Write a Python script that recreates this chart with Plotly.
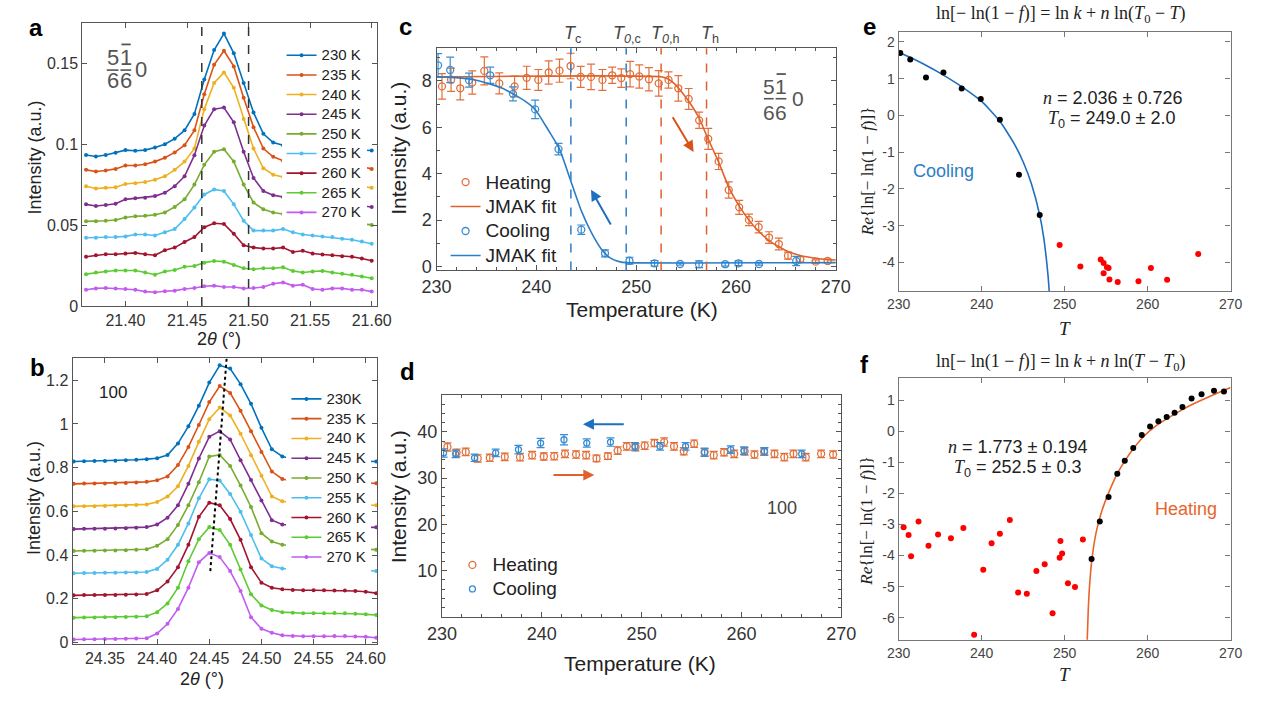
import plotly.graph_objects as go

W, H = 1270, 702
def X(px): return px / W
def Y(py): return 1 - py / H

FONT = "Liberation Sans, Arial, sans-serif"
SERIF = "Liberation Serif, Times New Roman, serif"

# ---------------- panel a : (5/6 -1/6 0) peak ----------------
two_theta_a = [21.368, 21.376, 21.384, 21.392, 21.400, 21.408, 21.416, 21.424, 21.432, 21.440,
               21.448, 21.456, 21.464, 21.472, 21.480, 21.488, 21.496, 21.504, 21.512, 21.520,
               21.528, 21.536, 21.544, 21.552, 21.560, 21.568, 21.576, 21.584, 21.592, 21.600]
I_a_230 = [0.0933, 0.0924, 0.0933, 0.0947, 0.0963, 0.0959, 0.0963, 0.0979, 0.0999, 0.1034,
           0.1085, 0.1186, 0.1399, 0.1581, 0.1683, 0.1561, 0.1378, 0.1196, 0.1064, 0.1010,
           0.0993, 0.0983, 0.0979, 0.0975, 0.0971, 0.0969, 0.0967, 0.0965, 0.0963, 0.0961]
I_a_235 = [0.0841, 0.0831, 0.0837, 0.0847, 0.0868, 0.0868, 0.0876, 0.0892, 0.0916, 0.0949,
           0.0993, 0.1085, 0.1308, 0.1490, 0.1577, 0.1480, 0.1287, 0.1105, 0.0973, 0.0922,
           0.0898, 0.0892, 0.0888, 0.0884, 0.0880, 0.0876, 0.0872, 0.0866, 0.0860, 0.0847]
I_a_240 = [0.0740, 0.0726, 0.0730, 0.0734, 0.0754, 0.0758, 0.0766, 0.0780, 0.0801, 0.0841,
           0.0892, 0.0973, 0.1216, 0.1378, 0.1443, 0.1348, 0.1155, 0.0973, 0.0851, 0.0811,
           0.0797, 0.0787, 0.0780, 0.0774, 0.0768, 0.0762, 0.0756, 0.0750, 0.0740, 0.0730]
I_a_245 = [0.0628, 0.0618, 0.0624, 0.0632, 0.0659, 0.0665, 0.0669, 0.0679, 0.0699, 0.0740,
           0.0801, 0.0932, 0.1115, 0.1216, 0.1226, 0.1135, 0.0953, 0.0791, 0.0710, 0.0685,
           0.0673, 0.0665, 0.0657, 0.0651, 0.0645, 0.0639, 0.0632, 0.0626, 0.0618, 0.0612]
I_a_250 = [0.0523, 0.0523, 0.0527, 0.0531, 0.0547, 0.0555, 0.0557, 0.0564, 0.0578, 0.0612,
           0.0659, 0.0750, 0.0872, 0.0953, 0.0969, 0.0892, 0.0750, 0.0639, 0.0598, 0.0578,
           0.0568, 0.0557, 0.0547, 0.0539, 0.0533, 0.0527, 0.0521, 0.0515, 0.0507, 0.0501]
I_a_255 = [0.0422, 0.0422, 0.0426, 0.0426, 0.0430, 0.0442, 0.0442, 0.0436, 0.0456, 0.0476,
           0.0537, 0.0608, 0.0689, 0.0720, 0.0710, 0.0628, 0.0527, 0.0466, 0.0466, 0.0466,
           0.0476, 0.0456, 0.0442, 0.0436, 0.0430, 0.0426, 0.0416, 0.0409, 0.0399, 0.0385]
I_a_260 = [0.0304, 0.0314, 0.0320, 0.0320, 0.0324, 0.0328, 0.0320, 0.0314, 0.0345, 0.0361,
           0.0395, 0.0426, 0.0487, 0.0511, 0.0507, 0.0446, 0.0375, 0.0361, 0.0355, 0.0355,
           0.0361, 0.0334, 0.0341, 0.0324, 0.0318, 0.0314, 0.0308, 0.0304, 0.0294, 0.0280]
I_a_265 = [0.0197, 0.0207, 0.0213, 0.0219, 0.0219, 0.0219, 0.0207, 0.0193, 0.0213, 0.0223,
           0.0243, 0.0247, 0.0268, 0.0278, 0.0274, 0.0253, 0.0233, 0.0227, 0.0233, 0.0233,
           0.0239, 0.0217, 0.0207, 0.0213, 0.0217, 0.0207, 0.0199, 0.0193, 0.0182, 0.0172]
I_a_270 = [0.0101, 0.0109, 0.0111, 0.0109, 0.0105, 0.0101, 0.0089, 0.0085, 0.0091, 0.0095,
           0.0105, 0.0111, 0.0122, 0.0126, 0.0118, 0.0118, 0.0109, 0.0111, 0.0118, 0.0138,
           0.0146, 0.0126, 0.0132, 0.0105, 0.0101, 0.0109, 0.0109, 0.0101, 0.0101, 0.0089]
labels_a = ["230 K", "235 K", "240 K", "245 K", "250 K", "255 K", "260 K", "265 K", "270 K"]
boundary_a = [21.462, 21.500]

# ---------------- panel b : (100) peak ----------------
two_theta_b = [24.32, 24.33, 24.34, 24.35, 24.36, 24.37, 24.38, 24.39, 24.40, 24.41,
               24.42, 24.43, 24.44, 24.45, 24.46, 24.47, 24.48, 24.49, 24.50, 24.51,
               24.52, 24.53, 24.54, 24.55, 24.56, 24.57, 24.58, 24.59, 24.60, 24.61]
I_b_230 = [0.828, 0.829, 0.830, 0.831, 0.832, 0.834, 0.836, 0.839, 0.843, 0.858,
           0.911, 0.989, 1.083, 1.189, 1.268, 1.253, 1.182, 1.092, 0.982, 0.884,
           0.851, 0.840, 0.836, 0.834, 0.833, 0.832, 0.832, 0.831, 0.830, 0.828]
I_b_235 = [0.726, 0.727, 0.727, 0.728, 0.729, 0.730, 0.732, 0.735, 0.742, 0.760,
           0.812, 0.895, 0.995, 1.100, 1.173, 1.142, 1.060, 0.966, 0.872, 0.782,
           0.748, 0.738, 0.735, 0.733, 0.732, 0.731, 0.731, 0.730, 0.730, 0.729]
I_b_240 = [0.623, 0.624, 0.624, 0.625, 0.626, 0.627, 0.629, 0.632, 0.643, 0.668,
           0.715, 0.808, 0.918, 1.022, 1.075, 1.039, 0.955, 0.857, 0.763, 0.668,
           0.646, 0.638, 0.634, 0.632, 0.631, 0.630, 0.630, 0.629, 0.629, 0.628]
I_b_245 = [0.519, 0.520, 0.520, 0.521, 0.522, 0.523, 0.525, 0.528, 0.540, 0.571,
           0.628, 0.726, 0.842, 0.941, 0.967, 0.929, 0.834, 0.744, 0.650, 0.560,
           0.540, 0.535, 0.532, 0.531, 0.530, 0.530, 0.529, 0.528, 0.528, 0.527]
I_b_250 = [0.419, 0.420, 0.420, 0.421, 0.421, 0.422, 0.424, 0.427, 0.443, 0.473,
           0.538, 0.628, 0.733, 0.851, 0.858, 0.808, 0.718, 0.620, 0.500, 0.462,
           0.447, 0.440, 0.436, 0.433, 0.431, 0.430, 0.429, 0.428, 0.427, 0.425]
I_b_255 = [0.317, 0.318, 0.318, 0.319, 0.319, 0.320, 0.321, 0.323, 0.337, 0.379,
           0.447, 0.545, 0.660, 0.747, 0.741, 0.680, 0.598, 0.492, 0.384, 0.349,
           0.339, 0.335, 0.334, 0.334, 0.334, 0.334, 0.335, 0.333, 0.331, 0.327]
I_b_260 = [0.216, 0.217, 0.217, 0.218, 0.218, 0.219, 0.220, 0.222, 0.239, 0.279,
           0.345, 0.447, 0.575, 0.640, 0.628, 0.565, 0.470, 0.345, 0.274, 0.251,
           0.244, 0.240, 0.239, 0.239, 0.239, 0.238, 0.238, 0.236, 0.232, 0.226]
I_b_265 = [0.114, 0.115, 0.115, 0.116, 0.116, 0.117, 0.118, 0.120, 0.139, 0.179,
           0.251, 0.372, 0.473, 0.528, 0.515, 0.447, 0.334, 0.221, 0.169, 0.149,
           0.139, 0.136, 0.134, 0.134, 0.134, 0.135, 0.134, 0.132, 0.129, 0.126]
I_b_270 = [0.014, 0.015, 0.015, 0.016, 0.016, 0.017, 0.018, 0.020, 0.041, 0.086,
           0.154, 0.251, 0.367, 0.410, 0.391, 0.327, 0.236, 0.116, 0.063, 0.045,
           0.033, 0.030, 0.029, 0.029, 0.029, 0.030, 0.030, 0.028, 0.026, 0.022]
labels_b = ["230K", "235 K", "240 K", "245 K", "250 K", "255 K", "260 K", "265 K", "270 K"]
peak_guide_x = [24.4666, 24.451]
peak_guide_y = [1.298, 0.327]

curve_colors = ["#0072BD", "#D95319", "#EDB120", "#7E2F8E", "#77AC30",
                "#4DBEEE", "#A2142F", "#5DCB34", "#C25BF0"]

# ---------------- panels c, d : temperature dependence ----------------
heat_T = [230.55, 231.46, 232.38, 233.58, 234.79, 236.29, 237.82, 239.03, 240.20, 241.24,
          242.32, 243.43, 244.44, 245.48, 246.62, 247.60, 248.51, 249.39, 250.31, 251.28,
          252.26, 253.24, 254.22, 255.26, 256.31, 257.22, 258.26, 259.27, 260.32, 261.30,
          262.27, 263.31, 264.29, 265.21, 266.44, 267.98, 269.18]
heat_c = [7.76, 8.05, 7.68, 7.93, 8.43, 7.89, 7.76, 8.13, 8.04, 8.36,
          8.44, 8.64, 8.17, 8.17, 8.04, 8.24, 8.12, 8.29, 8.19, 8.07,
          7.89, 8.04, 7.68, 7.22, 6.30, 5.50, 4.53, 3.30, 2.55, 2.01,
          1.70, 1.25, 0.97, 0.47, 0.31, 0.21, 0.24]
heat_c_err = [0.55, 0.5, 0.5, 0.5, 0.6, 0.45, 0.45, 0.5, 0.45, 0.5,
              0.5, 0.55, 0.45, 0.55, 0.45, 0.35, 0.4, 0.55, 0.5, 0.5,
              0.55, 0.35, 0.55, 0.45, 0.35, 0.45, 0.35, 0.35, 0.3, 0.25,
              0.25, 0.25, 0.25, 0.15, 0.12, 0.08, 0.08]
cool_T = [230.16, 231.37, 233.26, 235.38, 237.66, 239.88, 242.22, 244.50, 246.88, 249.33,
          251.84, 254.40, 256.30, 258.92, 260.25, 262.30, 266.03]
cool_c = [8.67, 8.47, 8.03, 8.24, 7.44, 6.77, 5.06, 1.59, 0.57, 0.25,
          0.14, 0.11, 0.10, 0.10, 0.14, 0.11, 0.24]
cool_c_err = [0.5, 0.55, 0.3, 0.35, 0.3, 0.4, 0.25, 0.2, 0.15, 0.15,
              0.12, 0.05, 0.15, 0.08, 0.1, 0.05, 0.2]

fit_heat_T = [230.0, 252.6, 253.2, 253.9, 254.6, 255.3, 256.3, 257.05, 258.26, 259.27,
              260.32, 261.3, 262.27, 263.31, 264.29, 265.2, 266.44, 267.98, 269.18, 270.0]
fit_heat_I = [8.17, 8.17, 8.08, 7.85, 7.50, 7.10, 6.40, 5.65, 4.50, 3.42,
              2.60, 2.00, 1.52, 1.12, 0.85, 0.65, 0.48, 0.36, 0.30, 0.28]
fit_cool_T = [230.0, 231.5, 233.5, 235.4, 236.6, 237.66, 238.8, 239.88, 241.24, 242.3,
              243.4, 244.5, 245.48, 246.46, 247.43, 248.4, 249.0, 270.0]
fit_cool_I = [8.18, 8.15, 8.07, 7.86, 7.68, 7.44, 7.15, 6.77, 5.85, 5.08,
              3.75, 2.41, 1.49, 0.78, 0.36, 0.20, 0.17, 0.17]

T_c, T_0c, T_0h, T_h = 243.46, 249.0, 252.5, 257.05

heat_d = [36.74, 35.46, 35.67, 34.26, 34.40, 34.61, 34.54, 34.97, 34.68, 34.75,
          35.25, 35.10, 34.97, 34.26, 34.75, 35.96, 36.88, 36.67, 37.02, 37.59,
          37.80, 36.88, 35.82, 37.45, 35.60, 34.97, 35.60, 35.25, 35.80, 35.10,
          35.70, 35.25, 34.54, 35.25, 34.54, 35.25, 35.10]
heat_d_err = [0.9, 0.8, 0.8, 0.8, 0.8, 0.8, 0.8, 0.8, 0.8, 0.8,
              0.8, 0.8, 0.8, 0.7, 0.7, 0.8, 0.8, 0.8, 0.8, 0.8,
              0.9, 0.8, 0.8, 0.8, 0.8, 0.8, 0.8, 0.8, 0.8, 0.8,
              0.8, 0.8, 0.8, 0.8, 0.8, 0.8, 0.8]
cool_d = [35.46, 35.25, 34.40, 35.46, 36.17, 37.59, 38.30, 37.59, 37.80, 36.88,
          36.88, 36.88, 35.60, 36.17, 35.96, 35.82, 35.25]
cool_d_err = [0.9, 0.8, 0.8, 0.8, 0.9, 1.0, 1.1, 0.9, 0.9, 0.8,
              0.8, 0.8, 0.9, 0.8, 0.8, 0.8, 0.8]

# ---------------- panel e : cooling JMAK linearisation ----------------
e_T_in = [230.2, 231.4, 233.3, 235.4, 237.6, 239.9, 242.2, 244.5, 247.0]
e_y_in = [1.70, 1.52, 1.03, 1.17, 0.73, 0.45, -0.12, -1.61, -2.71]
e_T_out = [249.4, 251.9, 254.35, 254.7, 255.1, 255.3, 254.7, 255.4, 256.4, 258.9, 260.4, 262.35, 266.1]
e_y_out = [-3.52, -4.11, -3.92, -4.01, -4.13, -4.15, -4.29, -4.46, -4.53, -4.51, -4.15, -4.47, -3.77]
e_fit_T = [230.0, 231.5, 233.0, 235.0, 237.0, 238.5, 240.0, 241.0, 242.2, 243.0,
           244.0, 245.0, 246.0, 247.0, 247.5, 248.0, 248.16]
e_fit_y = [1.72, 1.57, 1.40, 1.15, 0.87, 0.64, 0.38, 0.15, -0.16, -0.43,
           -0.80, -1.26, -1.86, -2.71, -3.35, -4.35, -4.83]

# ---------------- panel f : heating JMAK linearisation ----------------
f_T_in = [253.25, 254.24, 255.3, 256.35, 257.25, 258.27, 259.3, 260.3, 261.3, 262.3,
          263.25, 264.2, 265.3, 266.5, 268.0, 269.2]
f_y_in = [-4.11, -2.90, -2.11, -1.36, -0.94, -0.53, -0.11, 0.16, 0.33, 0.47,
          0.60, 0.79, 1.06, 1.20, 1.31, 1.29]
f_T_out = [230.6, 231.2, 231.5, 232.4, 233.6, 234.75, 236.3, 237.8, 239.1, 240.2,
           241.2, 242.2, 243.4, 244.4, 245.45, 246.6, 247.6, 248.55, 249.4, 249.5,
           249.7, 250.4, 251.25, 252.2]
f_y_out = [-3.09, -3.34, -4.02, -2.90, -3.68, -3.32, -3.44, -3.11, -6.55, -4.46,
           -3.60, -3.30, -2.85, -5.19, -5.23, -4.50, -4.28, -5.86, -4.07, -3.53,
           -3.93, -4.89, -5.01, -3.48]
f_fit_T = [252.72, 252.85, 253.0, 253.3, 253.8, 254.5, 255.3, 256.3, 257.3, 258.3,
           259.5, 261.0, 263.0, 265.0, 267.0, 268.5, 270.0]
f_fit_y = [-6.75, -5.75, -5.00, -4.10, -3.25, -2.55, -1.98, -1.38, -0.93, -0.55,
           -0.17, 0.18, 0.52, 0.82, 1.07, 1.25, 1.42]

HEAT_PT = "#E2703A"
COOL_PT = "#3A8DD2"
HEAT_LN = "#E0612B"
COOL_LN = "#2B7DC6"

def lg(name, px):
    # legend label drawn at px size (legend row spacing follows the legend font size)
    return "<span style='font-size:%dpx'>%s</span>" % (px, name)

fig = go.Figure()

series_a = [I_a_230, I_a_235, I_a_240, I_a_245, I_a_250, I_a_255, I_a_260, I_a_265, I_a_270]
for name, col, ys in zip(labels_a, curve_colors, series_a):
    fig.add_trace(go.Scatter(x=two_theta_a, y=ys, mode="lines+markers", name=lg(name, 15),
                             line=dict(color=col, width=1.6), marker=dict(color=col, size=4),
                             xaxis="x", yaxis="y", legend="legend"))

series_b = [I_b_230, I_b_235, I_b_240, I_b_245, I_b_250, I_b_255, I_b_260, I_b_265, I_b_270]
for name, col, ys in zip(labels_b, curve_colors, series_b):
    fig.add_trace(go.Scatter(x=two_theta_b, y=ys, mode="lines+markers", name=lg(name, 15),
                             line=dict(color=col, width=1.6), marker=dict(color=col, size=4),
                             xaxis="x2", yaxis="y2", legend="legend2"))
fig.add_trace(go.Scatter(x=peak_guide_x, y=peak_guide_y, mode="lines", showlegend=False,
                         line=dict(color="black", width=2, dash="dot"), xaxis="x2", yaxis="y2"))

def err(arr, col):
    return dict(type="data", array=arr, visible=True, color=col, thickness=1.2, width=4)

# panel c
fig.add_trace(go.Scatter(x=heat_T, y=heat_c, mode="markers", name=lg("Heating", 19),
                         marker=dict(symbol="circle-open", size=7, color=HEAT_PT, line=dict(width=1.3)),
                         error_y=err(heat_c_err, HEAT_PT), xaxis="x3", yaxis="y3", legend="legend3"))
fig.add_trace(go.Scatter(x=fit_heat_T, y=fit_heat_I, mode="lines", name=lg("JMAK fit", 19),
                         line=dict(color=HEAT_LN, width=1.6, shape="spline", smoothing=0.6),
                         xaxis="x3", yaxis="y3", legend="legend3"))
fig.add_trace(go.Scatter(x=cool_T, y=cool_c, mode="markers", name=lg("Cooling", 19),
                         marker=dict(symbol="circle-open", size=7, color=COOL_PT, line=dict(width=1.3)),
                         error_y=err(cool_c_err, COOL_PT), xaxis="x3", yaxis="y3", legend="legend3"))
fig.add_trace(go.Scatter(x=fit_cool_T, y=fit_cool_I, mode="lines", name=lg("JMAK fit", 19),
                         line=dict(color=COOL_LN, width=1.6, shape="spline", smoothing=0.6),
                         xaxis="x3", yaxis="y3", legend="legend3"))

# panel d
fig.add_trace(go.Scatter(x=heat_T, y=heat_d, mode="markers", name=lg("Heating", 19),
                         marker=dict(symbol="circle-open", size=7, color=HEAT_PT, line=dict(width=1.3)),
                         error_y=err(heat_d_err, HEAT_PT), xaxis="x4", yaxis="y4", legend="legend4"))
fig.add_trace(go.Scatter(x=cool_T, y=cool_d, mode="markers", name=lg("Cooling", 19),
                         marker=dict(symbol="circle-open", size=6, color=COOL_PT, line=dict(width=1.3)),
                         error_y=err(cool_d_err, COOL_PT), xaxis="x4", yaxis="y4", legend="legend4"))

# panel e
fig.add_trace(go.Scatter(x=e_fit_T, y=e_fit_y, mode="lines", showlegend=False,
                         line=dict(color="#1F6FBF", width=1.6, shape="spline", smoothing=0.5),
                         xaxis="x5", yaxis="y5"))
fig.add_trace(go.Scatter(x=e_T_in, y=e_y_in, mode="markers", showlegend=False,
                         marker=dict(color="black", size=6), xaxis="x5", yaxis="y5"))
fig.add_trace(go.Scatter(x=e_T_out, y=e_y_out, mode="markers", showlegend=False,
                         marker=dict(color="#FF0000", size=6), xaxis="x5", yaxis="y5"))

# panel f
fig.add_trace(go.Scatter(x=f_fit_T, y=f_fit_y, mode="lines", showlegend=False,
                         line=dict(color="#E8642A", width=1.6, shape="spline", smoothing=0.5),
                         xaxis="x6", yaxis="y6"))
fig.add_trace(go.Scatter(x=f_T_in, y=f_y_in, mode="markers", showlegend=False,
                         marker=dict(color="black", size=6), xaxis="x6", yaxis="y6"))
fig.add_trace(go.Scatter(x=f_T_out, y=f_y_out, mode="markers", showlegend=False,
                         marker=dict(color="#FF0000", size=6), xaxis="x6", yaxis="y6"))


def ax(size=16, color="#333", lc="#555", **kw):
    d = dict(showline=True, linecolor=lc, linewidth=1.2, mirror="ticks", ticks="inside",
             ticklen=5, tickcolor=lc, tickwidth=1, showgrid=False, zeroline=False,
             tickfont=dict(family=FONT, size=size, color=color), fixedrange=True)
    d.update(kw)
    return d

minor_x = dict(ticks="inside", ticklen=3, dtick=2, tickcolor="#555", showgrid=False)
d_minor_vals = [v for v in range(2, 48, 2) if v % 10 != 0]

layout_axes = dict(
    xaxis=ax(domain=[X(69), X(371)], range=[21.365, 21.6045], anchor="y",
             tickvals=[21.40, 21.45, 21.50, 21.55, 21.60],
             ticktext=["21.40", "21.45", "21.50", "21.55", "21.60"]),
    yaxis=ax(domain=[Y(310), Y(23)], range=[0, 0.175], anchor="x",
             tickvals=[0, 0.05, 0.1, 0.15], ticktext=["0", "0.05", "0.1", "0.15"]),
    xaxis2=ax(domain=[X(59), X(371)], range=[24.319, 24.611], anchor="y2",
              tickvals=[24.35, 24.40, 24.45, 24.50, 24.55, 24.60],
              ticktext=["24.35", "24.40", "24.45", "24.50", "24.55", "24.60"]),
    yaxis2=ax(domain=[Y(652), Y(363)], range=[-0.005, 1.30], anchor="x2",
              tickvals=[0, 0.2, 0.4, 0.6, 0.8, 1.0, 1.2],
              ticktext=["0", "0.2", "0.4", "0.6", "0.8", "1", "1.2"]),
    xaxis3=ax(size=18, domain=[X(431.7), X(840.7)], range=[230, 270], anchor="y3",
              dtick=10, tick0=230, minor=minor_x),
    yaxis3=ax(size=18, domain=[Y(274), Y(49)], range=[-0.17, 9.4], anchor="x3",
              dtick=2, tick0=0, minor=dict(ticks="inside", ticklen=3, dtick=1, tickcolor="#555", showgrid=False)),
    xaxis4=ax(size=18, domain=[X(437.3), X(846.3)], range=[230, 270], anchor="y4",
              dtick=10, tick0=230, minor=minor_x),
    yaxis4=ax(size=18, domain=[Y(625), Y(400)], range=[0, 48], anchor="x4",
              tickmode="array", tickvals=[10, 20, 30, 40], ticktext=["10", "20", "30", "40"],
              minor=dict(ticks="inside", ticklen=3, tickmode="array", tickvals=d_minor_vals,
                         tickcolor="#555", showgrid=False)),
    xaxis5=ax(size=14, color="#444", lc="#777", domain=[X(905), X(1245)], range=[230, 270],
              anchor="y5", dtick=10, tick0=230),
    yaxis5=ax(size=14, color="#444", lc="#777", domain=[Y(295), Y(32)], range=[-4.78, 2.28],
              anchor="x5", tickvals=[-4, -3, -2, -1, 0, 1, 2],
              ticktext=["-4", "-3", "-2", "-1", "0", "1", "2"]),
    xaxis6=ax(size=14, color="#444", lc="#777", domain=[X(905), X(1245)], range=[230, 270],
              anchor="y6", dtick=10, tick0=230),
    yaxis6=ax(size=14, color="#444", lc="#777", domain=[Y(648), Y(383)], range=[-6.71, 1.72],
              anchor="x6", tickvals=[-6, -5, -4, -3, -2, -1, 0, 1],
              ticktext=["-6", "-5", "-4", "-3", "-2", "-1", "0", "1"]),
)

shapes = []
for xb in boundary_a:
    shapes.append(dict(type="line", xref="x", yref="y domain", x0=xb, x1=xb, y0=0, y1=1,
                       line=dict(color="#333", width=1.5, dash="dash")))
for xv, col in [(T_c, COOL_LN), (T_0c, COOL_LN), (T_0h, HEAT_LN), (T_h, HEAT_LN)]:
    shapes.append(dict(type="line", xref="x3", yref="y3 domain", x0=xv, x1=xv, y0=0, y1=1,
                       line=dict(color=col, width=1.5, dash="dash")))

# stacked Miller-index notation bars
def pline(x0, y0, x1, y1, w=1.6, col="#555"):
    shapes.append(dict(type="line", xref="paper", yref="paper", x0=X(x0), x1=X(x1),
                       y0=Y(y0), y1=Y(y1), line=dict(color=col, width=w)))
pline(94, 71, 106, 71); pline(108, 71, 119, 71); pline(109, 45, 118.5, 45, 1.8)
pline(767, 100, 777, 100); pline(779, 100, 790, 100); pline(780, 75, 789.5, 75, 1.8)

ann = []
def txt(x, y, s, size=16, color="#222", family=FONT, angle=0, xanchor="center", yanchor="middle"):
    ann.append(dict(x=X(x), y=Y(y), xref="paper", yref="paper", text=s, showarrow=False,
                    font=dict(family=family, size=size, color=color), textangle=angle,
                    xanchor=xanchor, yanchor=yanchor))

# panel letters
for (x, y, s) in [(21, 28, "a"), (23, 372, "b"), (400, 27, "c"), (402, 376, "d"), (875, 27, "e"), (870, 369, "f")]:
    txt(x, y, "<b>%s</b>" % s, size=24, color="black")

# axis titles
txt(20, 160, "Intensity (a.u.)", size=18, angle=-90)
txt(209, 343, "2<i>θ</i> (°)", size=18)
txt(19, 505, "Intensity (a.u.)", size=18, angle=-90)
txt(192, 688, "2<i>θ</i> (°)", size=18)
txt(392, 150, "Intensity (a.u.)", size=21, angle=-90)
txt(642, 314, "Temperature (K)", size=21)
txt(393, 503, "Intensity (a.u.)", size=21, angle=-90)
txt(640, 672, "Temperature (K)", size=21)
txt(873, 173, "<i>Re</i>{ln[− ln(1 − <i>f</i>)]}", size=17, family=SERIF, angle=-90)
txt(872, 527, "<i>Re</i>{ln[− ln(1 − <i>f</i>)]}", size=17, family=SERIF, angle=-90)
txt(1075, 333, "<i>T</i>", size=19, family=SERIF)
txt(1075, 683, "<i>T</i>", size=19, family=SERIF)

# panel titles e, f
txt(1071, 15, "ln[− ln(1 − <i>f</i>)] = ln <i>k</i> + <i>n</i> ln(<i>T</i><sub>0</sub> − <i>T</i>)", size=18, family=SERIF)
txt(1071, 367, "ln[− ln(1 − <i>f</i>)] = ln <i>k</i> + <i>n</i> ln(<i>T</i> − <i>T</i><sub>0</sub>)", size=18, family=SERIF)

SER = "<span style='font-family:Liberation Serif'><i>%s</i></span>"
txt(1124, 99, (SER % "n") + " = 2.036 ± 0.726", size=18)
txt(1124, 121, (SER % "T") + "<sub>0</sub> = 249.0 ± 2.0", size=18)
txt(1027, 453, (SER % "n") + " = 1.773 ± 0.194", size=18)
txt(1027, 475, (SER % "T") + "<sub>0</sub> = 252.5 ± 0.3", size=18)
txt(951, 173, "Cooling", size=18, color="#2B7DC6")
txt(1199, 516, "Heating", size=18, color="#E8642A")

# Miller index labels
for (x, y, s) in [(100, 58, "5"), (113.3, 58, "1"), (100, 82, "6"), (113.3, 82, "6"), (129, 70, "0")]:
    txt(x, y, s, size=22, color="#555")
for (x, y, s) in [(772, 88, "5"), (784.5, 88, "1"), (772, 114, "6"), (784.5, 114, "6"), (801.5, 100, "0")]:
    txt(x, y, s, size=21, color="#555")
txt(100, 398, "100", size=17, color="#222")
txt(786, 515, "100", size=18, color="#444")

# T labels above panel c
txt(571, 35, "<i>T</i><sub>c</sub>", size=18, color="#444")
txt(627, 35, "<i>T</i><sub><i>0</i>,c</sub>", size=18, color="#444")
txt(666, 35, "<i>T</i><sub><i>0</i>,h</sub>", size=18, color="#444")
txt(712, 35, "<i>T</i><sub>h</sub>", size=18, color="#444")

# arrows
def arrow(xr, yr, x0, y0, x1, y1, col):
    ann.append(dict(xref=xr, yref=yr, axref=xr, ayref=yr, x=x1, y=y1, ax=x0, ay=y0, text="",
                    showarrow=True, arrowhead=2, arrowsize=1.1, arrowwidth=2, arrowcolor=col, standoff=0))
arrow("x3", "y3", 253.57, 6.50, 255.75, 4.94, "#D95319")
arrow("x3", "y3", 247.54, 1.745, 245.48, 3.31, "#1F6FBF")
arrow("x4", "y4", 248.36, 41.64, 244.12, 41.64, "#1F6FBF")
arrow("x4", "y4", 241.02, 30.70, 245.26, 30.70, "#E0612B")

leg_common = dict(xanchor="left", yanchor="top", borderwidth=0, itemwidth=30,
                  tracegroupgap=0, traceorder="normal")
fig.update_layout(
    width=W, height=H, margin=dict(l=0, r=0, t=0, b=0),
    paper_bgcolor="white", plot_bgcolor="white",
    font=dict(family=FONT, color="#222"),
    showlegend=True,
    legend=dict(x=X(273), y=Y(41), bgcolor="white", font=dict(family=FONT, size=12.8, color="#222"), **leg_common),
    legend2=dict(x=X(278), y=Y(389), bgcolor="white", font=dict(family=FONT, size=12.9, color="#222"), **leg_common),
    legend3=dict(x=X(441), y=Y(167), bgcolor="rgba(0,0,0,0)", font=dict(family=FONT, size=16.5, color="#222"), **leg_common),
    legend4=dict(x=X(448), y=Y(555), bgcolor="rgba(0,0,0,0)", font=dict(family=FONT, size=16.2, color="#222"), **leg_common),
    shapes=shapes, annotations=ann,
    **layout_axes,
)

fig.write_html("out.html")
